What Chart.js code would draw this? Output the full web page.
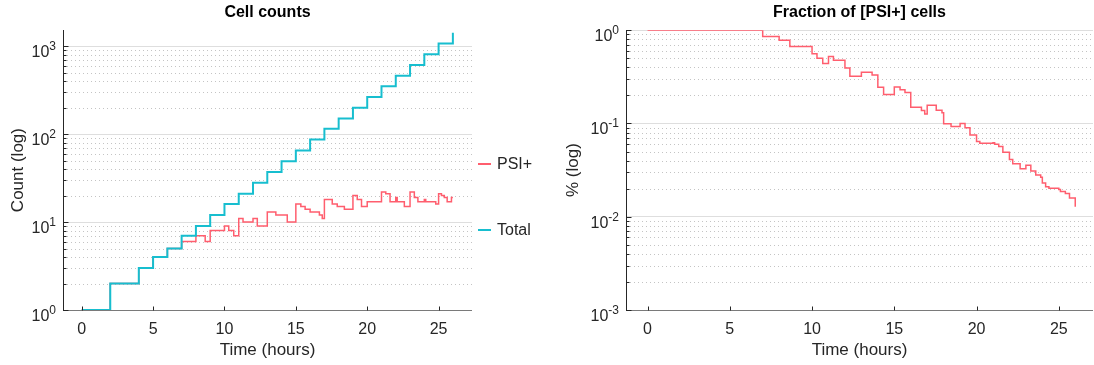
<!DOCTYPE html>
<html>
<head>
<meta charset="utf-8">
<script src="https://cdn.jsdelivr.net/npm/chart.js@4"></script>
<style>
  body { margin: 0; background: #fff; width: 1094px; height: 365px; position: relative; overflow: hidden;
         font-family: 'Liberation Sans', Arial, Helvetica, sans-serif; color: #262626; }
  #left { position: absolute; left: 0; top: 0; }
  #right { position: absolute; left: 555px; top: 0; }
  .key { position: absolute; left: 478px; height: 20px; line-height: 20px; font-size: 16px; white-space: nowrap; }
  .key i { display: inline-block; width: 13px; height: 2px; vertical-align: middle; margin-right: 6px; position: relative; top: -1px; }
</style>
</head>
<body>
<canvas id="left" width="480" height="365"></canvas>
<canvas id="right" width="539" height="365"></canvas>
<div class="key" style="top:154px"><i style="background:#ff5e6e"></i>PSI+</div>
<div class="key" style="top:220px"><i style="background:#17becf"></i>Total</div>

<script>
// data (time in hours)
const totalTimes  = [0, 2, 4, 5, 6, 7, 8, 9, 10, 11, 12, 13, 14, 15, 16, 17, 18, 19, 20, 21, 22, 23, 24, 25, 26];
const totalCounts = [1, 2, 3, 4, 5, 7, 9, 12, 16, 21, 28, 37, 49, 65, 87, 115, 151, 199, 264, 351, 460, 612, 811, 1070, 1420];

const psiTimes  = [0, 2, 4, 5, 6, 7, 8, 8.65, 9, 10, 10.3, 10.65, 11, 11.3, 12, 12.3, 13, 13.6, 14.4, 15,
                   15.35, 15.65, 16, 16.65, 16.85, 17, 17.55, 17.9, 18.4, 19, 19.3, 19.6, 20, 21, 21.3,
                   21.6, 22, 22.1, 22.6, 23, 23.3, 23.55, 24, 24.1, 24.8, 25, 25.2, 25.4, 25.6, 25.9, 26];
const psiCounts = [1, 2, 3, 4, 5, 6, 7, 6, 8, 9, 8, 7, 11, 10, 11, 9, 13, 12, 10, 16,
                   15, 14, 13, 12, 11, 18, 16, 15, 14, 20, 18, 15, 17, 22, 21,
                   17, 19, 17, 15, 22, 19, 17, 18, 17, 16, 21, 20, 19, 17, 19, 19];

const fracTimes  = [0, 7, 8, 8.65, 10, 10.3, 10.65, 11, 11.3, 12, 12.3, 13, 13.65, 14, 14.35, 15, 15.35,
                    15.65, 16, 16.65, 16.85, 17, 17.55, 17.9, 18, 18.45, 19, 19.3, 19.6, 20, 20.2, 21,
                    21.1, 21.35, 21.6, 22, 22.2, 22.65, 23, 23.3, 23.6, 23.9, 24, 24.2, 24.4, 25, 25.1,
                    25.4, 25.65, 26];
const fracValues = [1, 0.857, 0.778, 0.667, 0.56, 0.5, 0.44, 0.524, 0.476, 0.393, 0.32, 0.355, 0.33, 0.245,
                    0.204, 0.246, 0.23, 0.215, 0.149, 0.138, 0.126, 0.157, 0.139, 0.13, 0.099, 0.093, 0.1,
                    0.09, 0.075, 0.064, 0.0615, 0.062, 0.06, 0.0566, 0.049, 0.041, 0.037, 0.0326, 0.0357,
                    0.031, 0.028, 0.0265, 0.023, 0.021, 0.0202, 0.0196, 0.0187, 0.0177, 0.0159, 0.0128];

const xTicks = [0, 5, 10, 15, 20, 25];

const FONT = "'Liberation Sans', Arial, Helvetica, sans-serif";
const TEXT = '#262626';
const RED = '#ff5e6e';
const CYAN = '#17becf';

const pts = (xs, ys) => xs.map((x, i) => ({ x: x, y: ys[i] }));

function logTicks(min, max) {
  const out = [];
  for (let e = Math.floor(Math.log10(min)); e <= Math.ceil(Math.log10(max)); e++) {
    for (let m = 1; m <= 9; m++) {
      const v = m * Math.pow(10, e);
      if (v >= min * 0.999 && v <= max * 1.001) out.push({ value: v, major: m === 1 });
    }
  }
  return out;
}

// dotted minor grid, axis lines, inward tick marks and 10^n labels
const axisDecor = {
  id: 'axisDecor',
  beforeDatasetsDraw(chart) {
    const { ctx, chartArea: a } = chart;
    const y = chart.scales.y;
    ctx.save();
    ctx.strokeStyle = '#c4c4c4';
    ctx.lineWidth = 1;
    ctx.setLineDash([1, 3]);
    y.ticks.forEach(t => {
      if (t.major) return;
      const py = Math.round(y.getPixelForValue(t.value)) + 0.5;
      ctx.beginPath(); ctx.moveTo(a.left, py); ctx.lineTo(a.right, py); ctx.stroke();
    });
    ctx.restore();
  },
  afterDraw(chart) {
    const { ctx, chartArea: a } = chart;
    const { x, y } = chart.scales;
    const left = Math.round(a.left) + 0.5;
    const bottom = Math.round(a.bottom) + 0.5;
    ctx.save();
    ctx.lineWidth = 1;
    // axes
    ctx.strokeStyle = '#7a7a7a';
    ctx.beginPath(); ctx.moveTo(left, bottom); ctx.lineTo(a.right, bottom); ctx.stroke();
    ctx.strokeStyle = TEXT;
    ctx.beginPath(); ctx.moveTo(left, Math.round(a.top)); ctx.lineTo(left, bottom + 0.5); ctx.stroke();

    ctx.fillStyle = TEXT;
    y.ticks.forEach(t => {
      const py = Math.round(y.getPixelForValue(t.value)) + 0.5;
      ctx.beginPath(); ctx.moveTo(left, py); ctx.lineTo(left + (t.major ? 5 : 3), py); ctx.stroke();
      if (!t.major) return;
      const exp = String(Math.round(Math.log10(t.value)));
      const xr = a.left - 7;
      ctx.textAlign = 'right';
      ctx.textBaseline = 'alphabetic';
      ctx.font = '12px ' + FONT;
      const ew = ctx.measureText(exp).width;
      ctx.fillText(exp, xr, py + 3);
      ctx.font = '16px ' + FONT;
      ctx.fillText('10', xr - ew, py + 10);
    });
    x.ticks.forEach(t => {
      const px = Math.round(x.getPixelForValue(t.value)) + 0.5;
      ctx.beginPath(); ctx.moveTo(px, bottom); ctx.lineTo(px, bottom - 4); ctx.stroke();
    });
    ctx.restore();
  }
};

function buildChart(id, cfg) {
  return new Chart(document.getElementById(id), {
    type: 'line',
    data: { datasets: cfg.datasets },
    options: {
      responsive: false,
      animation: false,
      devicePixelRatio: 1,
      layout: { padding: { top: 0, right: cfg.padRight, bottom: 0, left: 0 } },
      plugins: {
        legend: { display: false },
        tooltip: { enabled: false },
        title: {
          display: true, text: cfg.title, fullSize: false, color: '#000',
          font: { family: FONT, size: 16, weight: 'bold' },
          padding: { top: 3, bottom: 8 }
        }
      },
      scales: {
        x: {
          type: 'linear', min: cfg.xMin, max: cfg.xMax,
          afterBuildTicks: s => { s.ticks = xTicks.map(v => ({ value: v })); },
          afterFit: s => { s.height = 55; },
          grid: { display: false, drawTicks: false },
          border: { display: false },
          ticks: { color: TEXT, font: { family: FONT, size: 16 }, padding: 10, maxRotation: 0 },
          title: { display: true, text: 'Time (hours)', color: TEXT,
                   font: { family: FONT, size: 17 }, padding: { top: 0, bottom: 4 } }
        },
        y: {
          type: 'logarithmic', min: cfg.yMin, max: cfg.yMax,
          afterBuildTicks: s => { s.ticks = logTicks(cfg.yMin, cfg.yMax); },
          afterFit: s => { s.width = cfg.yWidth; },
          grid: {
            drawTicks: false, lineWidth: 1,
            color: c => (c.tick && c.tick.major) ? '#dedede' : 'rgba(0,0,0,0)'
          },
          border: { display: false },
          ticks: { display: false },
          title: { display: true, text: cfg.yTitle, color: TEXT,
                   font: { family: FONT, size: 17 }, padding: { top: 8, bottom: 0 } }
        }
      }
    },
    plugins: [axisDecor]
  });
}

buildChart('left', {
  title: 'Cell counts',
  yTitle: 'Count (log)',
  xMin: -1.31, xMax: 27.34,
  yMin: 1, yMax: 1520,
  yWidth: 63, padRight: 8,
  datasets: [
    { label: 'PSI+', data: pts(psiTimes, psiCounts), borderColor: RED, borderWidth: 1.5,
      stepped: 'before', pointRadius: 0, fill: false, order: 1 },
    { label: 'Total', data: pts(totalTimes, totalCounts), borderColor: CYAN, borderWidth: 2,
      stepped: 'before', pointRadius: 0, fill: false, order: 0 }
  ]
});

buildChart('right', {
  title: 'Fraction of [PSI+] cells',
  yTitle: '% (log)',
  xMin: -1.31, xMax: 27.08,
  yMin: 0.001, yMax: 1,
  yWidth: 71, padRight: 1,
  datasets: [
    { label: 'PSI+', data: pts(fracTimes, fracValues), borderColor: RED, borderWidth: 1.5,
      stepped: 'before', pointRadius: 0, fill: false }
  ]
});
</script>
</body>
</html>
